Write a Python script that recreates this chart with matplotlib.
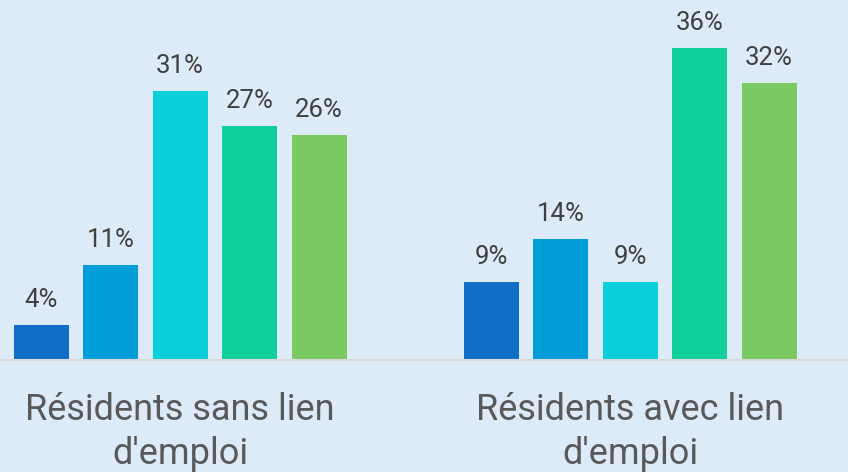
import numpy as np
import matplotlib.pyplot as plt

plt.rcParams['font.family'] = ['Roboto', 'DejaVu Sans']

groups = ["Résidents sans lien\nd'emploi", "Résidents avec lien\nd'emploi"]
values = [
    [4, 11, 31, 27, 26],
    [9, 14, 9, 36, 32],
]
colors = ['#0F6FC6', '#009DD9', '#0BD0D9', '#10CF9B', '#7CCA62']
bg = '#DDEBF8'

fig = plt.figure(figsize=(8.48, 4.72), dpi=100, facecolor=bg)
ax = fig.add_axes([0, 112 / 472, 1, 360 / 472], facecolor=bg)

x = np.arange(len(groups))
step = 69.5 / 450
width = 55 / 450
vals = np.array(values)
for i in range(vals.shape[1]):
    pos = x + (i - 2) * step
    bars = ax.bar(pos, vals[:, i], width=width, color=colors[i], zorder=2)
    for b, v in zip(bars, vals[:, i]):
        ax.annotate(f"{v}%", (b.get_x() + b.get_width() / 2, v),
                    xytext=(0, 13), textcoords='offset points',
                    ha='center', va='baseline', fontsize=18.5, color='#404040')

ax.set_xlim(-0.4, 1.4844)
ax.set_ylim(0, 360 / 8.667)
ax.set_yticks([])
ax.set_xticks(x)
ax.set_xticklabels(groups, fontsize=26, color='#595959', linespacing=1.3,
                   multialignment='center')
ax.tick_params(axis='x', length=0, pad=23)
for s in ['top', 'left', 'right']:
    ax.spines[s].set_visible(False)
ax.spines['bottom'].set_color('#D9D9D9')
ax.spines['bottom'].set_linewidth(1.5)

fig.savefig('out.png', dpi=100, facecolor=bg)
